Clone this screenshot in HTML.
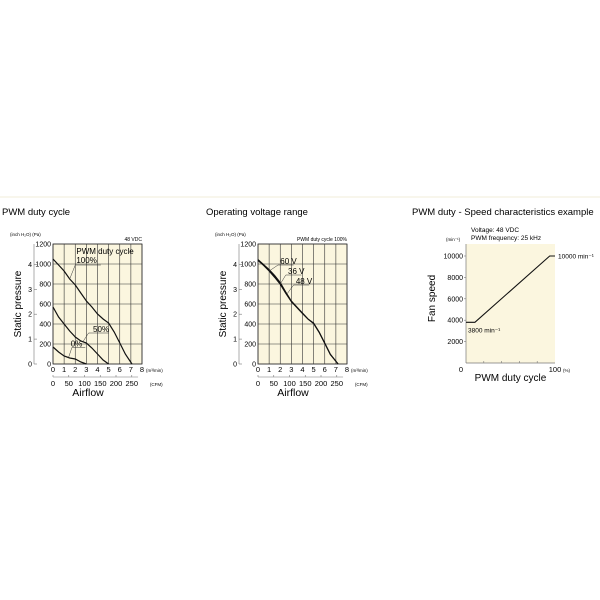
<!DOCTYPE html>
<html><head><meta charset="utf-8"><style>
body{margin:0;background:#fff;width:600px;height:600px;overflow:hidden;font-family:"Liberation Sans",sans-serif}
svg{position:absolute;left:0;top:0}
</style></head><body>
<svg id="s" width="600" height="600" font-family="Liberation Sans, sans-serif">
<line x1="0" y1="197" x2="600" y2="197" stroke="#f0ecd8" stroke-width="1"/>
<text x="2" y="215" font-size="9.5">PWM duty cycle</text>
<text x="206" y="215" font-size="9.5">Operating voltage range</text>
<text x="412" y="215" font-size="9.5">PWM duty - Speed characteristics example</text>
</svg>
<script>
// Chart 1: PWM duty cycle (x m3/min, y Pa)
const c1_100x=[0,0.5,1,1.5,2,2.5,3,3.5,4,4.5,5,5.5,6,6.5,7.1];
const c1_100y=[1050,990,930,850,790,710,630,570,500,450,410,320,210,100,0];
const c1_50x=[0,0.5,1,1.5,2,2.5,3,3.5,4,4.5,5];
const c1_50y=[570,470,400,330,270,230,210,160,100,40,0];
const c1_0x=[0,0.5,1,1.5,2,2.5,3];
const c1_0y=[170,120,80,60,50,20,0];
// Chart 2: voltage range
const c2_60x=[0,0.5,1,1.5,2,2.5,3,3.5,4,4.5,5,5.5,6,6.5,7.2];
const c2_60y=[1045,995,945,885,815,720,630,570,510,450,410,320,210,100,0];
const c2_36y=[1040,990,938,875,805,712,626,567,507,449,407,317,207,97,0];
const c2_48y=[1035,985,930,865,795,705,622,564,504,447,404,314,204,94,0];
// Chart 3: duty vs speed
const c3x=[0,10,94,100];
const c3y=[3800,3800,10000,10000];
const paTicks=[0,200,400,600,800,1000,1200];
const inchTicks=[0,1,2,3,4];
const m3Ticks=[0,1,2,3,4,5,6,7,8];
const cfmTicks=[0,50,100,150,200,250];
const rpmTicks=[2000,4000,6000,8000,10000];

const s=document.getElementById('s');const NS='http://www.w3.org/2000/svg';
function el(t,a,txt){const e=document.createElementNS(NS,t);for(const k in a)e.setAttribute(k,a[k]);if(txt!=null)e.textContent=txt;s.appendChild(e);return e;}

function fanChart(px,id){
  const L=px,R=px+89,T=244,B=364;
  const X=v=>L+v*(R-L)/8, Y=v=>B-v*(B-T)/1200;
  const bg=el('rect',{x:L,y:T,width:R-L,height:B-T,fill:'#fbf6df',stroke:'#222','stroke-width':0.8});
  
  for(const m of m3Ticks){const g=el('line',{x1:X(m),y1:T,x2:X(m),y2:B,stroke:'#333','stroke-width':0.6});
    
    const t=el('text',{x:X(m),y:B+8,'font-size':7.5,'text-anchor':'middle'},m);
    }
  const u=el('text',{x:X(8)+4,y:B+8,'font-size':4.5},'(m³/min)');
  for(const p of paTicks){const g=el('line',{x1:L,y1:Y(p),x2:R,y2:Y(p),stroke:'#333','stroke-width':0.6});
    
    const t=el('text',{x:L-2,y:Y(p)+2.5,'font-size':7,'text-anchor':'end'},p);
    }
  const ix=L-19;
  const ia=el('line',{x1:ix,y1:T,x2:ix,y2:B,stroke:'#777','stroke-width':0.6});
  for(const i of inchTicks){const y=Y(i*249);el('line',{x1:ix,y1:y,x2:ix+3,y2:y,stroke:'#777','stroke-width':0.6});
    const t=el('text',{x:ix-2,y:y+2.5,'font-size':7,'text-anchor':'end'},i);}
  const h=el('text',{x:L-43,y:T-8,'font-size':4.5},'(inch H₂O)   (Pa)');
  const yt=el('text',{x:0,y:0,'font-size':10,'text-anchor':'middle',transform:`translate(${L-32},${(T+B)/2}) rotate(-90)`},'Static pressure');
  
  const cy=B+13, cf=v=>L+v/282.5*(R-L);
  const ca=el('line',{x1:L,y1:cy,x2:cf(270),y2:cy,stroke:'#777','stroke-width':0.6});
  for(const c of cfmTicks){el('line',{x1:cf(c),y1:cy,x2:cf(c),y2:cy-2,stroke:'#777','stroke-width':0.6});
    const t=el('text',{x:cf(c),y:cy+9,'font-size':7.5,'text-anchor':'middle'},c);}
  const cu=el('text',{x:cf(282)+8,y:cy+9,'font-size':4.5},'(CFM)');
  const xt=el('text',{x:L+35,y:B+32,'font-size':10.5,'text-anchor':'middle'},'Airflow');
  return {X,Y,L,R,T,B};
}
function path(xs,ys,X,Y){return xs.map((v,i)=>(i?'L':'M')+X(v).toFixed(1)+','+Y(ys[i]).toFixed(1)).join(' ');}

const a=fanChart(53,'chart1');
let p=el('path',{d:path(c1_100x,c1_100y,a.X,a.Y),fill:'none',stroke:'#111','stroke-width':1.2});
p=el('path',{d:path(c1_50x,c1_50y,a.X,a.Y),fill:'none',stroke:'#111','stroke-width':1.2});
p=el('path',{d:path(c1_0x,c1_0y,a.X,a.Y),fill:'none',stroke:'#111','stroke-width':1.2});
let t=el('text',{x:a.X(2.1),y:a.Y(1100),'font-size':8},'PWM duty cycle');
t=el('text',{x:a.X(2.1),y:a.Y(1000)-1,'font-size':8},'100%');
el('polyline',{points:`${a.X(1.5)},${a.Y(850)} ${a.X(2)},${a.Y(990)} ${a.X(4.3)},${a.Y(990)}`,fill:'none',stroke:'#333','stroke-width':0.5});
t=el('text',{x:a.X(3.6),y:a.Y(320),'font-size':8},'50%');
el('polyline',{points:`${a.X(2.7)},${a.Y(225)} ${a.X(3.2)},${a.Y(310)} ${a.X(5)},${a.Y(310)}`,fill:'none',stroke:'#333','stroke-width':0.5});
t=el('text',{x:a.X(1.6),y:a.Y(175),'font-size':8},'0%');
el('polyline',{points:`${a.X(1.4)},${a.Y(65)} ${a.X(1.7)},${a.Y(165)} ${a.X(2.9)},${a.Y(165)}`,fill:'none',stroke:'#333','stroke-width':0.5});
t=el('text',{x:a.R,y:a.T-3,'font-size':5,'text-anchor':'end'},'48 VDC');

const b=fanChart(258,'chart2');
p=el('path',{d:path(c2_60x,c2_60y,b.X,b.Y),fill:'none',stroke:'#111','stroke-width':1});
p=el('path',{d:path(c2_60x,c2_36y,b.X,b.Y),fill:'none',stroke:'#111','stroke-width':1});
p=el('path',{d:path(c2_60x,c2_48y,b.X,b.Y),fill:'none',stroke:'#111','stroke-width':1});
t=el('text',{x:b.X(2),y:b.Y(1000),'font-size':8},'60 V');
el('polyline',{points:`${b.X(1)},${b.Y(930)} ${b.X(1.8)},${b.Y(990)} ${b.X(3.2)},${b.Y(990)}`,fill:'none',stroke:'#333','stroke-width':0.5});
t=el('text',{x:b.X(2.7),y:b.Y(900),'font-size':8},'36 V');
el('polyline',{points:`${b.X(2)},${b.Y(800)} ${b.X(2.5)},${b.Y(890)} ${b.X(3.9)},${b.Y(890)}`,fill:'none',stroke:'#333','stroke-width':0.5});
t=el('text',{x:b.X(3.4),y:b.Y(800),'font-size':8},'48 V');
el('polyline',{points:`${b.X(2.6)},${b.Y(700)} ${b.X(3.2)},${b.Y(790)} ${b.X(4.6)},${b.Y(790)}`,fill:'none',stroke:'#333','stroke-width':0.5});
t=el('text',{x:b.R,y:b.T-3,'font-size':5,'text-anchor':'end'},'PWM duty cycle 100%');

// Chart 3
const L3=466,R3=555,T3=244,B3=363;
const X3=v=>L3+v*(R3-L3)/100, Y3=v=>B3-v*0.0107;
let r=el('rect',{x:L3,y:T3,width:R3-L3,height:B3-T3,fill:'#fbf6df'});
el('line',{x1:L3,y1:T3,x2:L3,y2:B3,stroke:'#777','stroke-width':0.7});
el('line',{x1:L3,y1:B3,x2:R3,y2:B3,stroke:'#777','stroke-width':0.7});
for(const v of rpmTicks){el('line',{x1:L3-2,y1:Y3(v),x2:L3,y2:Y3(v),stroke:'#777','stroke-width':0.6});
  t=el('text',{x:L3-3,y:Y3(v)+2.5,'font-size':7,'text-anchor':'end'},v);}
for(const v of [20,40,60,80]){el('line',{x1:X3(v),y1:B3,x2:X3(v),y2:B3-2,stroke:'#777','stroke-width':0.6});}
t=el('text',{x:L3-5,y:B3+9,'font-size':7.5,'text-anchor':'middle'},'0');
t=el('text',{x:R3,y:B3+9,'font-size':7.5,'text-anchor':'middle'},'100');
t=el('text',{x:R3+8,y:B3+9,'font-size':4.5},'(%)');
t=el('text',{x:(L3+R3)/2,y:B3+18,'font-size':10,'text-anchor':'middle'},'PWM duty cycle');
t=el('text',{x:0,y:0,'font-size':10,'text-anchor':'middle',transform:`translate(435,${(T3+B3)/2-5}) rotate(-90)`},'Fan speed');
t=el('text',{x:L3-20,y:T3-3,'font-size':4.5},'(min⁻¹)');
t=el('text',{x:471,y:232,'font-size':6.5},'Voltage: 48 VDC');
t=el('text',{x:471,y:240,'font-size':6.5},'PWM frequency: 25 kHz');
p=el('path',{d:path(c3x,c3y,X3,Y3),fill:'none',stroke:'#111','stroke-width':1.1});
t=el('text',{x:X3(100)+3,y:Y3(10000)+2.5,'font-size':6.5},'10000 min⁻¹');
t=el('text',{x:L3+2,y:Y3(3800)+10,'font-size':6.5},'3800 min⁻¹');
</script>
</body></html>
